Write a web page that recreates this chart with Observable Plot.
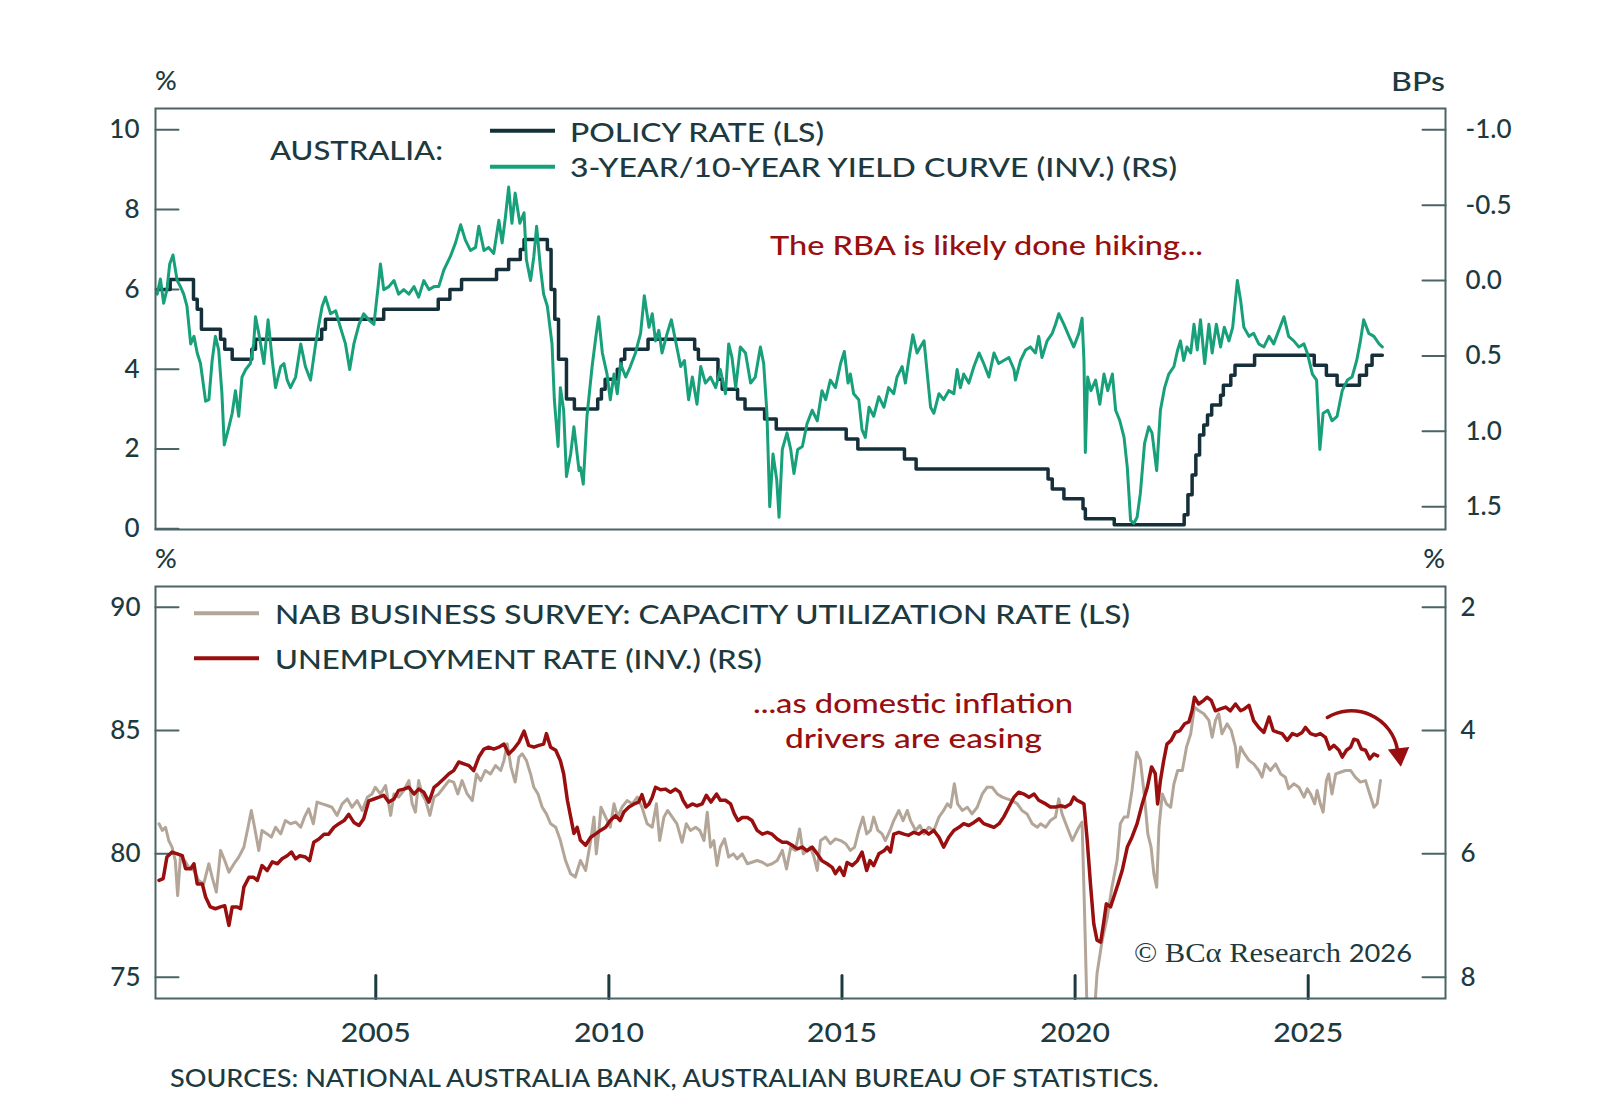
<!DOCTYPE html>
<html><head><meta charset="utf-8">
<script src="https://cdn.jsdelivr.net/npm/d3@7"></script>
<script src="https://cdn.jsdelivr.net/npm/@observablehq/plot@0.6"></script>
<style>
body{margin:0;background:#fff;}
#wrap{position:relative;width:1600px;height:1107px;overflow:hidden;background:#fff;}
#wrap svg{position:absolute;left:0;}
</style></head><body><div id="wrap"></div>
<script>
// ---------- DATA ----------
const yearTicks = [2005, 2010, 2015, 2020, 2025];
const topLeftTicks = [0, 2, 4, 6, 8, 10];
const topRightTicks = [-1.0, -0.5, 0.0, 0.5, 1.0, 1.5];
const botLeftTicks = [75, 80, 85, 90];
const botRightTicks = [2, 4, 6, 8];

// policy rate (LS), change points [year, %]
const policyRate = [[2000.31,6.0],[2000.59,6.25],[2001.09,5.75],[2001.17,5.5],[2001.26,5.0],[2001.67,4.75],[2001.76,4.5],[2001.92,4.25],[2002.34,4.5],[2002.42,4.75],[2003.84,5.0],[2003.92,5.25],[2005.17,5.5],[2006.34,5.75],[2006.59,6.0],[2006.84,6.25],[2007.59,6.5],[2007.85,6.75],[2008.10,7.0],[2008.18,7.25],[2008.68,7.0],[2008.76,6.0],[2008.84,5.25],[2008.92,4.25],[2009.09,3.25],[2009.26,3.0],[2009.76,3.25],[2009.84,3.5],[2009.92,3.75],[2010.18,4.0],[2010.26,4.25],[2010.34,4.5],[2010.84,4.75],[2011.84,4.5],[2011.92,4.25],[2012.34,3.75],[2012.43,3.5],[2012.76,3.25],[2012.92,3.0],[2013.34,2.75],[2013.59,2.5],[2015.09,2.25],[2015.34,2.0],[2016.34,1.75],[2016.59,1.5],[2019.42,1.25],[2019.51,1.0],[2019.76,0.75],[2020.17,0.5],[2020.22,0.25],[2020.84,0.1],[2022.34,0.35],[2022.42,0.85],[2022.51,1.35],[2022.59,1.85],[2022.67,2.35],[2022.76,2.6],[2022.84,2.85],[2022.93,3.1],[2023.12,3.35],[2023.18,3.6],[2023.34,3.85],[2023.43,4.1],[2023.85,4.35],[2025.13,4.1],[2025.39,3.85],[2025.62,3.6],[2026.10,3.85],[2026.25,4.1],[2026.37,4.35],[2026.59,4.35]];

// 3-year/10-year yield curve (inverted, RS) [year, value]
const yieldCurve = [[2000.31,0.09],[2000.38,-0.01],[2000.45,0.15],[2000.52,0.06],[2000.58,-0.11],[2000.65,-0.17],[2000.74,0.0],[2000.81,0.04],[2000.88,0.09],[2000.95,0.17],[2001.03,0.42],[2001.10,0.37],[2001.17,0.48],[2001.24,0.55],[2001.35,0.80],[2001.42,0.79],[2001.49,0.53],[2001.56,0.37],[2001.63,0.46],[2001.70,0.75],[2001.75,1.09],[2001.85,0.97],[2001.92,0.88],[2001.99,0.73],[2002.06,0.90],[2002.13,0.64],[2002.21,0.59],[2002.31,0.55],[2002.38,0.42],[2002.42,0.24],[2002.49,0.35],[2002.60,0.55],[2002.69,0.26],[2002.78,0.53],[2002.85,0.71],[2002.96,0.57],[2003.03,0.55],[2003.10,0.66],[2003.17,0.71],[2003.28,0.64],[2003.39,0.42],[2003.49,0.57],[2003.60,0.66],[2003.71,0.42],[2003.78,0.29],[2003.85,0.17],[2003.92,0.11],[2004.03,0.22],[2004.14,0.20],[2004.24,0.31],[2004.35,0.42],[2004.44,0.59],[2004.53,0.42],[2004.64,0.29],[2004.74,0.22],[2004.85,0.26],[2004.96,0.29],[2005.05,0.04],[2005.10,-0.11],[2005.17,0.06],[2005.28,0.04],[2005.39,0.0],[2005.49,0.09],[2005.60,0.06],[2005.71,0.09],[2005.82,0.04],[2005.92,0.11],[2006.03,0.0],[2006.14,0.06],[2006.25,0.04],[2006.35,0.04],[2006.46,-0.07],[2006.60,-0.16],[2006.71,-0.25],[2006.82,-0.37],[2006.92,-0.27],[2007.03,-0.20],[2007.14,-0.22],[2007.21,-0.36],[2007.32,-0.20],[2007.42,-0.22],[2007.53,-0.18],[2007.64,-0.40],[2007.71,-0.25],[2007.78,-0.42],[2007.85,-0.62],[2007.92,-0.38],[2007.99,-0.58],[2008.09,-0.38],[2008.18,-0.45],[2008.23,-0.14],[2008.32,0.0],[2008.39,-0.16],[2008.45,-0.36],[2008.53,-0.09],[2008.60,0.09],[2008.68,0.17],[2008.78,0.42],[2008.83,0.79],[2008.91,1.10],[2008.96,0.71],[2009.03,0.86],[2009.09,1.30],[2009.18,1.15],[2009.25,0.97],[2009.36,1.26],
[2009.39,1.24],[2009.45,1.35],[2009.53,0.90],[2009.64,0.57],[2009.73,0.35],[2009.78,0.24],[2009.86,0.48],[2009.96,0.62],[2010.03,0.79],[2010.11,0.62],[2010.18,0.75],[2010.25,0.55],[2010.36,0.64],[2010.46,0.57],[2010.57,0.48],[2010.68,0.35],[2010.76,0.10],[2010.86,0.31],[2010.93,0.22],[2011.00,0.40],[2011.07,0.33],[2011.14,0.48],[2011.25,0.35],[2011.34,0.26],[2011.43,0.40],[2011.54,0.57],[2011.62,0.53],[2011.71,0.79],[2011.79,0.64],[2011.89,0.82],[2011.97,0.57],[2012.07,0.68],[2012.18,0.64],[2012.29,0.71],[2012.39,0.59],[2012.50,0.75],[2012.57,0.42],[2012.64,0.51],[2012.72,0.71],[2012.82,0.44],[2012.93,0.48],[2013.04,0.68],[2013.14,0.64],[2013.25,0.44],[2013.32,0.55],[2013.39,0.88],[2013.45,1.50],[2013.52,1.15],[2013.60,1.32],[2013.65,1.57],[2013.72,1.12],[2013.82,1.01],[2013.90,1.12],[2013.97,1.28],[2014.05,1.12],[2014.15,1.10],[2014.25,0.95],[2014.36,0.86],[2014.47,0.93],[2014.57,0.73],[2014.65,0.79],[2014.75,0.66],[2014.86,0.71],[2014.97,0.55],[2015.05,0.47],[2015.13,0.68],[2015.18,0.62],[2015.25,0.75],[2015.36,0.79],[2015.43,0.99],[2015.50,1.04],[2015.58,0.84],[2015.68,0.90],[2015.79,0.77],[2015.90,0.84],[2016.00,0.71],[2016.11,0.75],[2016.18,0.64],[2016.29,0.57],[2016.36,0.68],[2016.43,0.53],[2016.52,0.36],[2016.61,0.48],[2016.68,0.44],[2016.76,0.40],[2016.83,0.62],[2016.90,0.84],[2016.97,0.88],[2017.08,0.75],[2017.18,0.79],[2017.29,0.73],[2017.40,0.75],[2017.47,0.59],[2017.54,0.71],[2017.61,0.62],[2017.72,0.68],[2017.83,0.57],[2017.94,0.48],[2018.04,0.55],[2018.15,0.64],[2018.26,0.48],[2018.36,0.55],[2018.47,0.53],[2018.58,0.51],[2018.69,0.59],
[2018.72,0.66],[2018.83,0.53],[2018.94,0.46],[2019.04,0.44],[2019.15,0.48],[2019.22,0.37],[2019.29,0.51],[2019.40,0.40],[2019.51,0.35],[2019.58,0.29],[2019.65,0.22],[2019.76,0.29],[2019.87,0.37],[2019.97,0.44],[2020.08,0.35],[2020.15,0.25],[2020.19,0.53],[2020.22,1.14],[2020.27,0.64],[2020.34,0.73],[2020.44,0.66],[2020.53,0.82],[2020.62,0.62],[2020.70,0.73],[2020.80,0.62],[2020.87,0.86],[2020.96,0.93],[2021.05,1.04],[2021.12,1.24],[2021.19,1.59],[2021.26,1.61],[2021.33,1.57],[2021.40,1.41],[2021.49,1.08],[2021.58,0.97],[2021.65,1.01],[2021.75,1.26],[2021.83,0.86],[2021.92,0.71],[2022.01,0.62],[2022.12,0.57],[2022.20,0.46],[2022.26,0.40],[2022.33,0.53],[2022.40,0.44],[2022.48,0.48],[2022.55,0.29],[2022.62,0.46],[2022.69,0.26],[2022.78,0.55],[2022.87,0.29],[2022.94,0.48],[2023.03,0.29],[2023.12,0.44],[2023.20,0.31],[2023.30,0.40],[2023.38,0.31],[2023.48,0.0],[2023.55,0.13],[2023.62,0.31],[2023.73,0.37],[2023.83,0.35],[2023.94,0.42],[2024.05,0.44],[2024.16,0.37],[2024.26,0.42],[2024.37,0.33],[2024.48,0.24],[2024.58,0.37],[2024.69,0.40],[2024.80,0.44],[2024.91,0.42],[2024.98,0.48],[2025.09,0.62],[2025.18,0.66],[2025.25,1.12],[2025.32,0.88],[2025.42,0.86],[2025.51,0.93],[2025.62,0.90],[2025.73,0.73],[2025.84,0.66],[2025.94,0.64],[2026.04,0.53],[2026.12,0.40],[2026.19,0.26],[2026.30,0.35],[2026.41,0.37],[2026.52,0.42],[2026.59,0.44]];

// NAB capacity utilization (LS) [year, %]
const capacityUtil = [[2000.35,81.22],[2000.42,80.95],[2000.49,81.08],[2000.56,80.54],[2000.63,80.27],[2000.70,79.73],[2000.75,78.31],[2000.81,79.87],[2000.90,79.73],[2000.99,79.46],[2001.10,79.33],[2001.20,78.92],[2001.31,78.79],[2001.42,79.60],[2001.49,79.06],[2001.58,78.45],[2001.67,80.14],[2001.76,79.73],[2001.85,79.26],[2001.96,79.60],[2002.06,79.87],[2002.17,80.27],[2002.26,81.08],[2002.33,81.76],[2002.40,81.08],[2002.49,80.14],[2002.56,80.95],[2002.67,80.81],[2002.76,80.68],[2002.85,81.08],[2002.96,80.81],[2003.06,81.35],[2003.17,81.22],[2003.28,81.29],[2003.39,81.08],[2003.47,81.49],[2003.56,81.83],[2003.66,81.22],[2003.74,82.10],[2003.85,82.03],[2003.96,81.96],[2004.06,81.89],[2004.17,81.56],[2004.28,82.03],[2004.39,82.23],[2004.49,81.89],[2004.60,82.16],[2004.71,81.76],[2004.82,82.30],[2004.92,82.43],[2004.99,82.70],[2005.10,82.43],[2005.21,82.77],[2005.32,81.56],[2005.39,82.43],[2005.49,82.30],[2005.60,82.57],[2005.71,82.97],[2005.78,82.03],[2005.85,81.69],[2005.92,82.97],[2005.99,82.43],[2006.07,82.16],[2006.16,81.56],[2006.25,82.30],[2006.35,82.43],[2006.46,82.70],[2006.57,82.97],[2006.67,82.91],[2006.76,82.43],[2006.85,82.97],[2006.96,82.43],[2007.07,82.16],[2007.16,83.24],[2007.25,82.97],[2007.35,83.38],[2007.46,83.24],[2007.57,83.58],[2007.68,83.38],[2007.75,83.79],[2007.82,84.46],[2007.90,83.52],[2007.99,82.91],[2008.07,83.92],[2008.14,84.06],[2008.23,83.79],[2008.32,83.24],[2008.39,82.70],[2008.48,82.43],[2008.57,81.89],[2008.66,81.62],[2008.75,81.22],[2008.86,81.08],[2008.96,80.54],[2009.07,79.73],[2009.18,79.19],[2009.28,79.06],
[2009.39,79.73],[2009.50,79.33],[2009.61,80.54],[2009.68,81.49],[2009.73,80.00],[2009.78,80.81],[2009.83,81.89],[2009.93,81.49],[2010.03,81.08],[2010.11,82.03],[2010.19,81.49],[2010.28,81.89],[2010.39,82.16],[2010.50,82.03],[2010.61,82.30],[2010.71,81.89],[2010.82,81.22],[2010.93,81.08],[2011.02,82.03],[2011.09,80.54],[2011.18,81.49],[2011.26,81.76],[2011.36,81.49],[2011.46,81.22],[2011.57,80.47],[2011.66,81.22],[2011.75,80.95],[2011.86,81.08],[2011.95,80.95],[2012.04,80.54],[2012.11,81.69],[2012.18,80.27],[2012.25,80.54],[2012.32,79.53],[2012.39,80.27],[2012.48,80.61],[2012.57,79.87],[2012.67,80.00],[2012.75,79.80],[2012.86,80.00],[2012.97,79.60],[2013.07,79.66],[2013.18,79.73],[2013.29,79.66],[2013.40,79.53],[2013.50,79.60],[2013.61,79.73],[2013.72,80.14],[2013.81,79.39],[2013.90,80.27],[2014.00,80.14],[2014.09,81.01],[2014.17,80.00],[2014.25,80.14],[2014.32,80.27],[2014.40,79.87],[2014.47,79.33],[2014.54,80.54],[2014.65,80.68],[2014.75,80.41],[2014.86,80.61],[2014.97,80.54],[2015.08,80.41],[2015.18,80.14],[2015.27,80.27],[2015.36,80.95],[2015.45,81.49],[2015.53,80.81],[2015.61,80.95],[2015.68,81.49],[2015.77,80.95],[2015.86,80.81],[2015.93,80.54],[2016.03,80.95],[2016.11,81.35],[2016.22,81.76],[2016.31,81.35],[2016.40,81.76],[2016.47,81.35],[2016.58,80.95],[2016.67,81.15],[2016.76,80.81],[2016.86,81.08],[2016.97,80.95],[2017.08,81.49],[2017.18,81.76],[2017.26,82.03],[2017.33,81.89],[2017.41,82.84],[2017.48,82.03],[2017.58,81.76],[2017.69,81.89],[2017.79,81.62],[2017.90,81.89],[2018.01,82.43],[2018.11,82.70],[2018.22,82.70],[2018.33,82.43],[2018.44,82.30],[2018.54,82.23],[2018.65,82.16],[2018.76,82.03],[2018.86,81.76],[2018.97,81.62],[2019.08,81.22],[2019.19,81.08],
[2019.26,81.22],[2019.37,81.08],[2019.47,81.35],[2019.58,81.49],[2019.65,82.23],[2019.72,81.62],[2019.83,81.08],[2019.94,80.54],[2020.01,80.81],[2020.08,81.08],[2020.15,81.29],[2020.20,77.84],[2020.27,72.6],[2020.37,72.2],[2020.47,75.14],[2020.58,76.49],[2020.69,77.43],[2020.79,78.65],[2020.90,79.73],[2020.97,81.22],[2021.05,81.49],[2021.13,81.49],[2021.22,82.57],[2021.32,84.12],[2021.40,83.79],[2021.49,82.30],[2021.56,80.81],[2021.63,80.27],[2021.69,79.19],[2021.75,78.65],[2021.80,81.08],[2021.87,82.43],[2021.96,82.03],[2022.05,81.89],[2022.12,82.84],[2022.20,83.38],[2022.30,83.38],[2022.39,84.33],[2022.48,84.87],[2022.56,85.95],[2022.65,85.81],[2022.76,85.68],[2022.87,85.41],[2022.94,84.73],[2023.01,85.41],[2023.08,85.68],[2023.15,84.87],[2023.26,85.27],[2023.35,85.00],[2023.44,84.33],[2023.48,83.52],[2023.55,84.33],[2023.63,84.06],[2023.73,83.79],[2023.83,83.65],[2023.94,83.38],[2024.01,83.11],[2024.08,83.65],[2024.19,83.38],[2024.30,83.65],[2024.41,83.24],[2024.51,83.11],[2024.58,82.64],[2024.69,82.84],[2024.80,82.70],[2024.91,82.30],[2024.98,82.64],[2025.05,82.43],[2025.14,82.03],[2025.19,82.57],[2025.26,82.03],[2025.32,81.69],[2025.39,82.97],[2025.44,83.24],[2025.51,82.43],[2025.59,83.24],[2025.69,83.31],[2025.80,83.38],[2025.91,83.38],[2026.01,83.11],[2026.12,82.91],[2026.23,82.97],[2026.32,82.43],[2026.41,81.89],[2026.48,82.03],[2026.55,82.97]];

// unemployment rate (inverted, RS) [year, %]
const unemployment = [[2000.35,6.43],[2000.44,6.40],[2000.52,6.05],[2000.63,5.97],[2000.74,6.0],[2000.85,6.03],[2000.92,6.24],[2001.03,6.24],[2001.10,6.16],[2001.17,6.49],[2001.28,6.49],[2001.35,6.70],[2001.45,6.86],[2001.56,6.89],[2001.67,6.86],[2001.76,6.84],[2001.85,7.16],[2001.92,6.86],[2002.03,6.86],[2002.10,6.89],[2002.17,6.54],[2002.28,6.38],[2002.38,6.38],[2002.46,6.43],[2002.56,6.19],[2002.67,6.27],[2002.78,6.13],[2002.89,6.16],[2002.99,6.08],[2003.10,6.03],[2003.19,5.97],[2003.28,6.08],[2003.37,6.03],[2003.49,6.05],[2003.58,6.11],[2003.67,5.81],[2003.78,5.76],[2003.89,5.68],[2003.99,5.68],[2004.10,5.57],[2004.21,5.51],[2004.32,5.46],[2004.42,5.36],[2004.53,5.49],[2004.64,5.54],[2004.74,5.43],[2004.85,5.14],[2004.96,5.11],[2005.07,5.08],[2005.17,5.05],[2005.28,5.16],[2005.39,5.11],[2005.49,4.97],[2005.60,4.95],[2005.71,4.92],[2005.82,5.03],[2005.92,4.95],[2006.03,5.00],[2006.14,5.16],[2006.25,4.92],[2006.35,4.86],[2006.46,4.78],[2006.57,4.70],[2006.67,4.65],[2006.78,4.51],[2006.89,4.54],[2007.00,4.57],[2007.10,4.65],[2007.21,4.43],[2007.32,4.30],[2007.42,4.27],[2007.53,4.30],[2007.64,4.27],[2007.75,4.22],[2007.85,4.38],[2007.96,4.30],[2008.07,4.19],[2008.18,4.01],[2008.28,4.24],[2008.39,4.27],[2008.50,4.24],[2008.60,4.22],[2008.66,4.05],[2008.75,4.27],[2008.86,4.32],[2008.96,4.49],[2009.03,4.70],[2009.11,5.13],[2009.18,5.40],[2009.25,5.67],[2009.32,5.57],
[2009.39,5.78],[2009.50,5.86],[2009.61,5.73],[2009.71,5.68],[2009.82,5.62],[2009.93,5.57],[2010.03,5.46],[2010.14,5.38],[2010.24,5.46],[2010.32,5.32],[2010.43,5.24],[2010.54,5.19],[2010.64,5.16],[2010.71,5.04],[2010.79,5.24],[2010.86,5.19],[2010.93,5.08],[2011.00,4.92],[2011.11,4.96],[2011.21,4.95],[2011.32,5.00],[2011.43,4.95],[2011.52,5.00],[2011.59,5.13],[2011.68,5.24],[2011.79,5.19],[2011.89,5.22],[2012.00,5.19],[2012.09,5.05],[2012.19,5.16],[2012.31,5.03],[2012.39,5.13],[2012.50,5.13],[2012.61,5.19],[2012.69,5.35],[2012.77,5.46],[2012.86,5.41],[2012.97,5.41],[2013.07,5.46],[2013.18,5.62],[2013.29,5.68],[2013.40,5.65],[2013.50,5.68],[2013.61,5.76],[2013.72,5.81],[2013.82,5.81],[2013.93,5.86],[2014.04,5.92],[2014.15,5.89],[2014.25,5.95],[2014.36,5.89],[2014.47,6.0],[2014.57,6.11],[2014.68,6.16],[2014.79,6.22],[2014.86,6.32],[2014.95,6.22],[2015.04,6.35],[2015.11,6.14],[2015.22,6.19],[2015.33,6.11],[2015.43,5.97],[2015.53,6.27],[2015.60,6.11],[2015.68,6.19],[2015.79,6.0],[2015.90,5.95],[2015.97,5.89],[2016.04,5.97],[2016.11,5.68],[2016.22,5.65],[2016.33,5.68],[2016.43,5.70],[2016.54,5.65],[2016.65,5.68],[2016.76,5.62],[2016.86,5.68],[2016.97,5.62],[2017.08,5.73],[2017.18,5.89],[2017.29,5.73],[2017.40,5.62],[2017.51,5.57],[2017.61,5.51],[2017.72,5.54],[2017.83,5.49],[2017.94,5.43],[2018.04,5.51],[2018.15,5.54],[2018.26,5.57],[2018.37,5.51],[2018.47,5.40],[2018.58,5.24],[2018.69,5.08],[2018.79,5.0],[2018.90,5.03],[2019.01,5.08],[2019.12,5.03],[2019.22,5.13],
[2019.37,5.19],[2019.47,5.24],[2019.58,5.24],[2019.69,5.22],[2019.79,5.24],[2019.90,5.19],[2019.97,5.08],[2020.04,5.13],[2020.12,5.16],[2020.19,5.19],[2020.26,5.78],[2020.33,6.49],[2020.40,7.13],[2020.47,7.40],[2020.55,7.43],[2020.62,7.08],[2020.67,6.81],[2020.76,6.86],[2020.83,6.70],[2020.92,6.49],[2021.01,6.27],[2021.12,5.89],[2021.22,5.73],[2021.33,5.51],[2021.44,5.19],[2021.55,4.92],[2021.64,4.59],[2021.72,4.70],[2021.77,5.19],[2021.83,4.81],[2021.90,4.49],[2021.97,4.22],[2022.06,4.16],[2022.15,4.03],[2022.25,4.0],[2022.35,3.89],[2022.44,3.86],[2022.51,3.68],[2022.56,3.46],[2022.65,3.57],[2022.76,3.51],[2022.83,3.46],[2022.92,3.51],[2023.01,3.68],[2023.12,3.65],[2023.23,3.62],[2023.33,3.68],[2023.44,3.57],[2023.55,3.68],[2023.63,3.65],[2023.73,3.59],[2023.83,3.84],[2023.94,3.95],[2024.05,4.03],[2024.16,3.78],[2024.25,4.0],[2024.35,4.03],[2024.44,4.05],[2024.55,4.16],[2024.66,4.05],[2024.76,4.08],[2024.87,4.03],[2024.94,3.95],[2025.05,4.05],[2025.16,4.08],[2025.26,4.05],[2025.37,4.11],[2025.46,4.30],[2025.55,4.24],[2025.66,4.32],[2025.73,4.43],[2025.82,4.32],[2025.91,4.27],[2025.98,4.14],[2026.06,4.16],[2026.14,4.30],[2026.23,4.32],[2026.32,4.46],[2026.41,4.38],[2026.49,4.41]];

// annotation arrow (bottom panel, LS units): start, end of arc; head position
const arrowArc = [{x1: 2025.41, y1: 85.53, x2: 2026.91, y2: 84.27}];
const arrowHead = [{x: 2026.955, y: 84.03}];

// ---------- STYLE ----------
const FONT = "Lato, 'Open Sans', 'DejaVu Sans', sans-serif";
const TEXT = "#1d3a40";
const FRAME = "#4a6468";
const DARK = "#15303a";
const GREEN = "#17a07a";
const BEIGE = "#b3a698";
const RED = "#990e0e";
const X_DOMAIN = [2000.275, 2027.945];

// scale bridges for the right-hand axes
const topToLeft = r => 10 - 3.779 * (r + 1);
const topFromLeft = l => (10 - l) / 3.779 - 1;
const botToLeft = r => 90 - 2.5 * (r - 2);
const botFromLeft = l => 2 + (90 - l) / 2.5;

const tickShape = {draw(ctx, l) { ctx.moveTo(0, 0); ctx.lineTo(0, -l); }};
const fmt1 = v => { const x = Math.round(v * 10) / 10; return (x < 0 ? "-" : "") + Math.abs(x).toFixed(1); };

const TOP_Y = [-0.018, 10.534];
const BOT_Y = [74.137, 90.839];
const AX = {tickSize: 0, fontSize: 26, fontWeight: 500, label: null};

const topChart = Plot.plot({
  width: 1600, height: 540,
  marginLeft: 155, marginRight: 155, marginTop: 108, marginBottom: 11,
  x: {domain: X_DOMAIN, axis: null},
  y: {domain: TOP_Y},
  style: {fontFamily: FONT, color: TEXT, background: "transparent", overflow: "visible"},
  marks: [
    Plot.vector(topLeftTicks, {x: X_DOMAIN[0], y: d => d, length: 23, rotate: 90, anchor: "start", shape: tickShape, stroke: FRAME, strokeWidth: 2}),
    Plot.vector(topRightTicks, {x: X_DOMAIN[1], y: d => topToLeft(d), length: 23, rotate: -90, anchor: "start", shape: tickShape, stroke: FRAME, strokeWidth: 2}),
    Plot.axisY({...AX, anchor: "left", ticks: topLeftTicks, tickPadding: 16, tickFormat: d => String(d)}),
    Plot.axisY({...AX, anchor: "right", ticks: topRightTicks.map(topToLeft), tickPadding: 20, tickFormat: l => fmt1(topFromLeft(l))}),
    Plot.line(policyRate, {x: d => d[0], y: d => d[1], curve: "step-after", stroke: DARK, strokeWidth: 3.5}),
    Plot.line(yieldCurve, {x: d => d[0], y: d => topToLeft(d[1]), stroke: GREEN, strokeWidth: 3, clip: true}),
    Plot.frame({stroke: FRAME, strokeWidth: 2})
  ]
});
topChart.style.top = "0px";

const botChart = Plot.plot({
  width: 1600, height: 530,
  marginLeft: 155, marginRight: 155, marginTop: 46, marginBottom: 72,
  x: {domain: X_DOMAIN},
  y: {domain: BOT_Y},
  style: {fontFamily: FONT, color: TEXT, background: "transparent", overflow: "visible"},
  marks: [
    Plot.vector(botLeftTicks, {x: X_DOMAIN[0], y: d => d, length: 23, rotate: 90, anchor: "start", shape: tickShape, stroke: FRAME, strokeWidth: 2}),
    Plot.vector(botRightTicks, {x: X_DOMAIN[1], y: d => botToLeft(d), length: 23, rotate: -90, anchor: "start", shape: tickShape, stroke: FRAME, strokeWidth: 2}),
    Plot.vector(yearTicks, {x: d => d, y: BOT_Y[0], length: 23, rotate: 0, anchor: "start", shape: tickShape, stroke: TEXT, strokeWidth: 3}),
    Plot.axisY({...AX, anchor: "left", ticks: botLeftTicks, tickPadding: 15, tickFormat: d => String(d)}),
    Plot.axisY({...AX, anchor: "right", ticks: botRightTicks.map(botToLeft), tickPadding: 15, tickFormat: l => String(Math.round(botFromLeft(l)))}),
    Plot.axisX({...AX, anchor: "bottom", ticks: yearTicks, tickPadding: 25, tickFormat: d => String(d)}),
    Plot.line(capacityUtil, {x: d => d[0], y: d => d[1], stroke: BEIGE, strokeWidth: 3, clip: true}),
    Plot.line(unemployment, {x: d => d[0], y: d => botToLeft(d[1]), stroke: RED, strokeWidth: 3.5, clip: true}),
    Plot.arrow(arrowArc, {x1: "x1", y1: "y1", x2: "x2", y2: "y2", bend: 55, headLength: 0, stroke: RED, strokeWidth: 3.5, insetStart: 0, insetEnd: 0}),
    Plot.dot(arrowHead, {x: "x", y: "y", symbol: "triangle", r: 8, rotate: 173, fill: RED, stroke: "none"}),
    Plot.frame({stroke: FRAME, strokeWidth: 2})
  ]
});
botChart.style.top = "540px";

const wrap = document.getElementById("wrap");
wrap.appendChild(topChart);
wrap.appendChild(botChart);

// widen the year labels to the reference's wide figures
d3.select(botChart).selectAll('g[aria-label="x-axis tick label"] text')
  .attr("textLength", 70).attr("lengthAdjust", "spacingAndGlyphs");

// ---------- overlay texts / legends ----------
const ov = d3.select(wrap).append("svg").attr("width", 1600).attr("height", 1107).style("top", "0px").style("pointer-events", "none");
function txt(x, y, s, o = {}) {
  const t = ov.append("text").attr("x", x).attr("y", y).text(s)
    .attr("font-size", o.size || 27).attr("font-weight", 500).attr("fill", o.fill || TEXT).attr("font-family", o.family || FONT);
  if (o.anchor) t.attr("text-anchor", o.anchor);
  if (o.len) t.attr("textLength", o.len).attr("lengthAdjust", "spacingAndGlyphs");
  return t;
}
function sw(x1, x2, y, c) {
  ov.append("line").attr("x1", x1).attr("x2", x2).attr("y1", y).attr("y2", y).attr("stroke", c).attr("stroke-width", 4);
}
txt(155, 90, "%", {size: 27});
txt(1445, 91, "BPs", {size: 27, anchor: "end", len: 54});
txt(270, 160, "AUSTRALIA:", {len: 173});
sw(490, 555, 130.7, DARK);
sw(490, 555, 166.7, GREEN);
txt(570, 142, "POLICY RATE (LS)", {len: 254});
txt(570, 177, "3-YEAR/10-YEAR YIELD CURVE (INV.) (RS)", {len: 607});
txt(770, 255, "The RBA is likely done hiking...", {fill: RED, len: 433});

txt(155, 568, "%", {size: 27});
txt(1445, 568, "%", {size: 27, anchor: "end"});
sw(194, 259, 613.3, BEIGE);
sw(194, 259, 658.3, RED);
txt(275, 623.5, "NAB BUSINESS SURVEY: CAPACITY UTILIZATION RATE (LS)", {len: 855});
txt(275, 668.5, "UNEMPLOYMENT RATE (INV.) (RS)", {len: 487});
txt(753, 713, "...as domestic inflation", {fill: RED, len: 320});
txt(785, 748, "drivers are easing", {fill: RED, len: 257});

const c = ov.append("text").attr("x", 1134).attr("y", 962).attr("fill", TEXT).attr("font-size", 28)
  .attr("font-family", "'Liberation Serif', 'DejaVu Serif', serif").attr("textLength", 278).attr("lengthAdjust", "spacingAndGlyphs");
c.append("tspan").text("© BCα Research ");
c.append("tspan").attr("font-family", FONT).attr("font-size", 25).text("2026");

txt(170, 1087, "SOURCES: NATIONAL AUSTRALIA BANK, AUSTRALIAN BUREAU OF STATISTICS.", {size: 24, len: 989});
</script></body></html>
